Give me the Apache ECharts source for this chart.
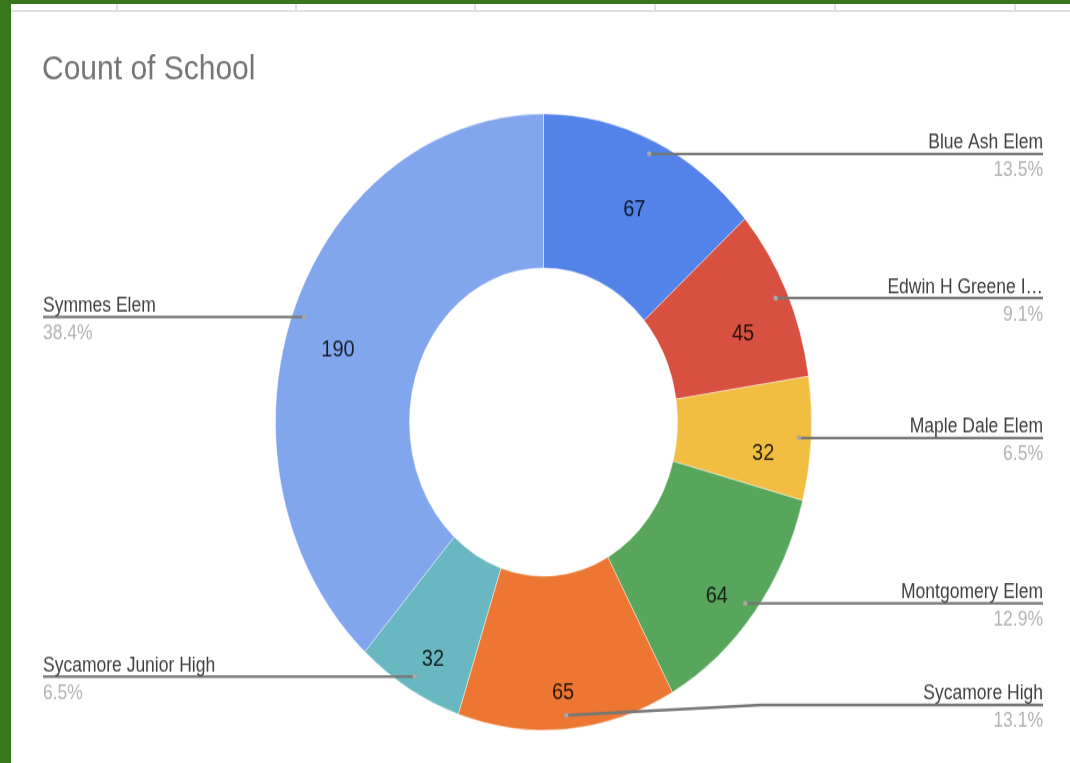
<!DOCTYPE html>
<html>
<head>
<meta charset="utf-8">
<script src="https://cdn.jsdelivr.net/npm/echarts@6/dist/echarts.min.js"></script>
<style>
  html, body { margin: 0; padding: 0; background: #ffffff; }
  #wrap { position: relative; width: 1070px; height: 763px; overflow: hidden; background: #ffffff; }
  #chart { position: absolute; left: 0; top: 0; width: 1070px; height: 664px; transform: scaleY(1.15); transform-origin: 0 0; }
  .green { position: absolute; background: #38761d; z-index: 5; }
  .grid { position: absolute; background: #e0e0e0; z-index: 4; }
</style>
</head>
<body>
<div id="wrap">
  <div id="chart"></div>
  <div class="green" style="left:0;top:0;width:1070px;height:4px"></div>
  <div class="green" style="left:0;top:0;width:11px;height:763px"></div>
  <div class="grid" style="left:11px;top:10px;width:1059px;height:2px"></div>
  <div class="grid" style="left:116px;top:4px;width:2px;height:7px"></div>
  <div class="grid" style="left:295px;top:4px;width:2px;height:7px"></div>
  <div class="grid" style="left:474px;top:4px;width:2px;height:7px"></div>
  <div class="grid" style="left:654px;top:4px;width:2px;height:7px"></div>
  <div class="grid" style="left:834px;top:4px;width:2px;height:7px"></div>
  <div class="grid" style="left:1014px;top:4px;width:2px;height:7px"></div>
</div>
<script>
// ---- data ----
const categories = ['Blue Ash Elem', 'Edwin H Greene Intermediate', 'Maple Dale Elem', 'Montgomery Elem', 'Sycamore High', 'Sycamore Junior High', 'Symmes Elem'];
const counts = [67, 45, 32, 64, 65, 32, 190];
const sliceColors = ['#5383e8', '#d85140', '#f1be42', '#58a65c', '#ec7632', '#68b7c1', '#82a6ee'];
const titleText = 'Count of School';

// ---- layout / style ----
const FONT = '"Liberation Sans", Arial, Helvetica, sans-serif';
const CENTER = [543.5, 367];
const R_INNER = 134, R_OUTER = 268, R_LINE = 256;
const VALUE_LABEL_R = 220, VALUE_LABEL_DY = 16;
const RIGHT_EDGE = 1043, LEFT_EDGE = 43;
const NAME_LH = 19, PCT_LH = 29;
const LABEL_MAX_Y = 613;

const total = counts.reduce((a, b) => a + b, 0);
let cum = 0;
const midAngles = counts.map(v => { const f = (cum + v / 2) / total; cum += v; return f * 2 * Math.PI; });
const isRight = midAngles.map(a => a < Math.PI);

function truncName(name, maxW) {
  try {
    if (echarts.format && echarts.format.truncateText) {
      return echarts.format.truncateText(name, maxW, '17.5px ' + FONT, '\u2026');
    }
  } catch (e) {}
  return name;
}

const pieData = categories.map((c, i) => ({ name: c, value: counts[i], itemStyle: { color: sliceColors[i] } }));
const lineData = categories.map((c, i) => ({ name: c, value: counts[i] }));

// small dots where each leader line starts (derived from the slice angles)
const dotGraphics = midAngles.map(a => ({
  type: 'circle', z: 100, silent: true,
  shape: { cx: CENTER[0] + R_LINE * Math.sin(a), cy: CENTER[1] - R_LINE * Math.cos(a), r: 2.2 },
  style: { fill: '#a8a8a8' }
}));

const chart = echarts.init(document.getElementById('chart'), null, { renderer: 'canvas' });
chart.setOption({
  animation: false,
  backgroundColor: '#ffffff',
  title: {
    text: titleText, left: 42, top: 46, padding: 0,
    textStyle: { fontSize: 30, fontWeight: 'normal', color: '#757575', fontFamily: FONT }
  },
  graphic: dotGraphics,
  series: [
    {
      type: 'pie',
      z: 2,
      center: CENTER,
      radius: [R_INNER, R_OUTER],
      startAngle: 90,
      clockwise: true,
      silent: true,
      avoidLabelOverlap: false,
      itemStyle: { borderColor: 'rgba(255,255,255,0.55)', borderWidth: 0.8 },
      label: {
        show: true, position: 'inside', formatter: '{c}',
        fontSize: 20, fontFamily: FONT, color: 'rgba(0,0,0,0.82)'
      },
      labelLayout: function (params) {
        const a = midAngles[params.dataIndex];
        return {
          x: CENTER[0] + VALUE_LABEL_R * Math.sin(a),
          y: CENTER[1] + VALUE_LABEL_DY - VALUE_LABEL_R * Math.cos(a),
          align: 'center', verticalAlign: 'middle'
        };
      },
      labelLine: { show: false },
      emphasis: { disabled: true },
      data: pieData
    },
    {
      type: 'pie',
      z: 4,
      center: CENTER,
      radius: [0, R_LINE],
      startAngle: 90,
      clockwise: true,
      silent: true,
      avoidLabelOverlap: false,
      itemStyle: { color: 'rgba(0,0,0,0)', borderWidth: 0 },
      label: {
        show: true, position: 'outside',
        formatter: function (p) {
          const right = isRight[p.dataIndex];
          const name = truncName(p.name, right ? 160 : 260);
          return '{n|' + name + '}\n{p|' + p.percent.toFixed(1) + '%}';
        },
        rich: {
          n: { fontSize: 17.5, lineHeight: NAME_LH, color: '#404040', fontFamily: FONT },
          p: { fontSize: 17.5, lineHeight: PCT_LH, color: '#b3b3b3', fontFamily: FONT }
        }
      },
      labelLine: { show: true, length: 10, length2: 10, lineStyle: { color: '#767676', width: 2.3 } },
      labelLayout: function (params) {
        const pts = params.labelLinePoints;
        if (!pts) return {};
        const right = isRight[params.dataIndex];
        const p0 = pts[0];
        const lineY = Math.min(p0[1], LABEL_MAX_Y);
        const edgeX = right ? RIGHT_EDGE : LEFT_EDGE;
        const bendX = lineY === p0[1] ? p0[0] : p0[0] + (right ? 195 : -195);
        return {
          x: edgeX, y: lineY - NAME_LH,
          align: right ? 'right' : 'left', verticalAlign: 'top',
          labelLinePoints: [[p0[0], p0[1]], [bendX, lineY], [edgeX, lineY]]
        };
      },
      emphasis: { disabled: true },
      data: lineData
    }
  ]
});
</script>
</body>
</html>
